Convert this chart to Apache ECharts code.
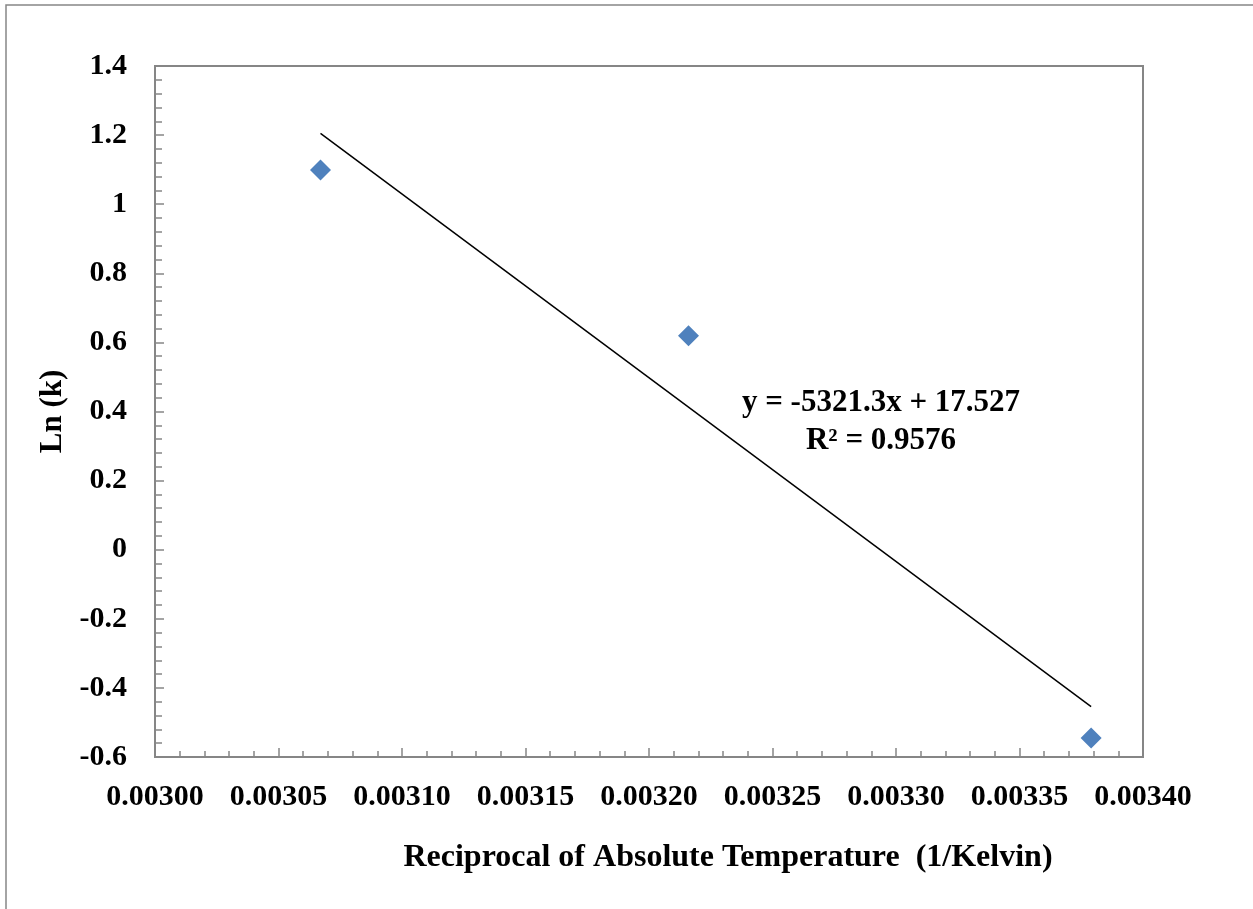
<!DOCTYPE html>
<html>
<head>
<meta charset="utf-8">
<script src="https://cdn.jsdelivr.net/npm/echarts@6/dist/echarts.min.js"></script>
<style>html,body{margin:0;padding:0;background:#fff}#c{width:1253px;height:909px}</style>
</head>
<body>
<div id="c"></div>
<script>
// Data
const xValues = [0.003067, 0.003216, 0.003379];
const yValues = [1.099, 0.619, -0.545];
const trendX = [0.003067, 0.003379];
const trendY = [1.205, -0.454];
const equationLines = ['y = -5321.3x + 17.527', 'R² = 0.9576'];
const xAxisTitle = 'Reciprocal of Absolute Temperature  (1/Kelvin)';
const yAxisTitle = 'Ln (k)';

const FONT = '"Liberation Serif", "Times New Roman", serif';
const GRAY = '#868686';

const chart = echarts.init(document.getElementById('c'), null, {renderer: 'canvas'});
chart.setOption({
  animation: false,
  backgroundColor: '#fff',
  grid: {left: 155, top: 66, right: 110, bottom: 152, show: true, borderColor: GRAY, borderWidth: 2, backgroundColor: 'transparent'},
  xAxis: {
    type: 'value', min: 0.003, max: 0.0034, interval: 0.00005,
    axisLine: {show: true, onZero: false, lineStyle: {color: GRAY, width: 2}},
    axisTick: {show: true, inside: true, length: 9, lineStyle: {color: GRAY, width: 1.5}},
    minorTick: {show: true, splitNumber: 5, length: 6, lineStyle: {color: GRAY, width: 1.5}},
    splitLine: {show: false},
    axisLabel: {margin: 25, color: '#000', fontFamily: FONT, fontWeight: 'bold', fontSize: 30,
      formatter: v => v.toFixed(5)}
  },
  yAxis: {
    type: 'value', min: -0.6, max: 1.4, interval: 0.2,
    axisLine: {show: true, onZero: false, lineStyle: {color: GRAY, width: 2}},
    axisTick: {show: true, inside: true, length: 9, lineStyle: {color: GRAY, width: 1.5}},
    minorTick: {show: true, splitNumber: 5, length: 7, lineStyle: {color: GRAY, width: 1.5}},
    splitLine: {show: false},
    axisLabel: {margin: 28, color: '#000', fontFamily: FONT, fontWeight: 'bold', fontSize: 30,
      formatter: v => String(parseFloat(v.toFixed(1)))},
    name: yAxisTitle, nameLocation: 'middle', nameRotate: 90, nameGap: 84,
    nameTextStyle: {color: '#000', fontFamily: FONT, fontWeight: 'bold', fontSize: 31}
  },
  graphic: [
    {type: 'rect', shape: {x: 6, y: 5, width: 1400, height: 1000}, style: {fill: 'none', stroke: GRAY, lineWidth: 1.5}, silent: true, z: -1},
    {type: 'text', x: 728, y: 858, style: {text: xAxisTitle, fill: '#000', font: 'bold 32px ' + FONT, textAlign: 'center', textVerticalAlign: 'middle'}},
    {type: 'text', x: 881, y: 403, style: {text: equationLines[0], fill: '#000', font: 'bold 31px ' + FONT, textAlign: 'center', textVerticalAlign: 'middle'}},
    {type: 'text', x: 881, y: 441, style: {text: equationLines[1], fill: '#000', font: 'bold 31px ' + FONT, textAlign: 'center', textVerticalAlign: 'middle'}}
  ],
  series: [
    {type: 'line', data: trendX.map((x, i) => [x, trendY[i]]), showSymbol: false, symbol: 'none',
      lineStyle: {color: '#000', width: 1.5}, z: 2},
    {type: 'scatter', data: xValues.map((x, i) => [x, yValues[i]]), symbol: 'diamond', symbolSize: [21, 21],
      itemStyle: {color: '#4F81BD', opacity: 1}, z: 3}
  ]
});
</script>
</body>
</html>
